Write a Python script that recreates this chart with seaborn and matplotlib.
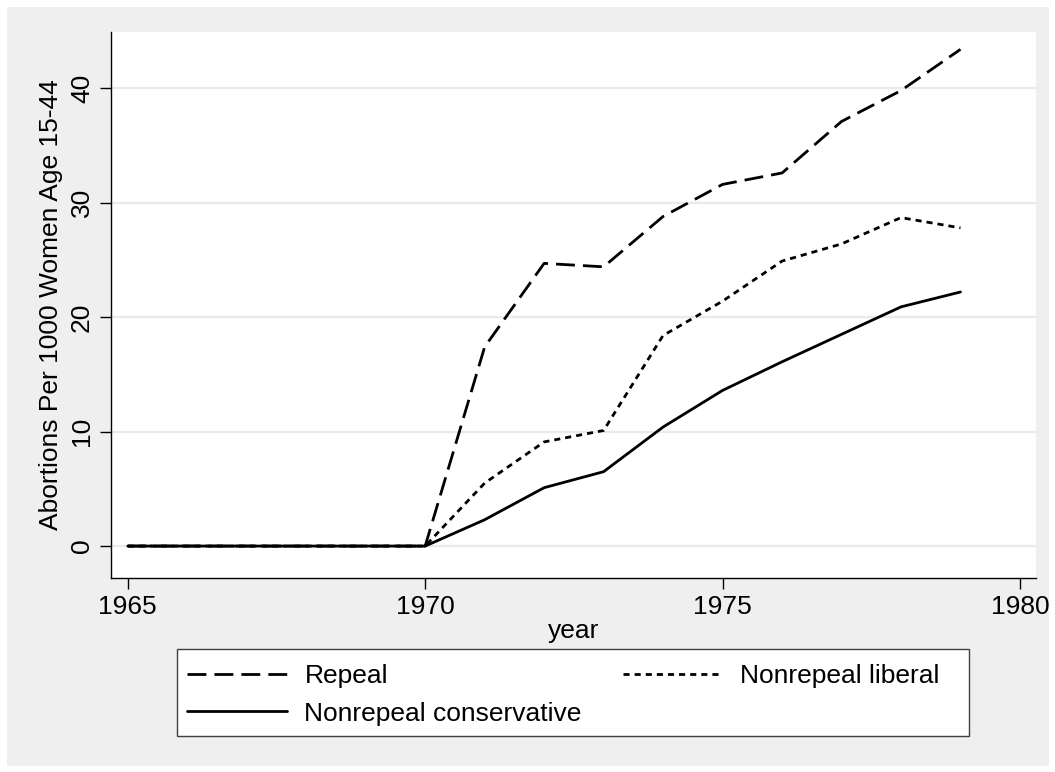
import pandas as pd
import matplotlib
matplotlib.use("Agg")
import matplotlib.pyplot as plt
import seaborn as sns
from matplotlib.patches import Rectangle

# Data
years = list(range(1965, 1980))
repeal = [0, 0, 0, 0, 0, 0, 17.4, 24.7, 24.4, 28.8, 31.6, 32.6, 37.1, 39.8, 43.4]
nonrepeal_liberal = [0, 0, 0, 0, 0, 0, 5.5, 9.1, 10.1, 18.4, 21.4, 24.9, 26.4, 28.7, 27.8]
nonrepeal_conservative = [0, 0, 0, 0, 0, 0, 2.3, 5.1, 6.5, 10.4, 13.6, 16.1, 18.5, 20.9, 22.2]
group_names = ["Repeal", "Nonrepeal conservative", "Nonrepeal liberal"]

df = pd.concat([
    pd.DataFrame({"year": years, "rate": repeal, "group": "Repeal"}),
    pd.DataFrame({"year": years, "rate": nonrepeal_conservative, "group": "Nonrepeal conservative"}),
    pd.DataFrame({"year": years, "rate": nonrepeal_liberal, "group": "Nonrepeal liberal"}),
])

sns.set_style("white")
plt.rcParams["font.family"] = ["Liberation Sans", "DejaVu Sans"]
plt.rcParams["text.color"] = "black"

bg = "#EFEFEF"
fs = 19
W, H = 1055, 772
fig = plt.figure(figsize=(W / 100, H / 100), dpi=100, facecolor=bg)
fig.patch.set_edgecolor("white")
fig.patch.set_linewidth(8)
ax = fig.add_axes([0.105, 0.2513, 0.877, 0.707])
ax.set_facecolor("white")

sns.lineplot(
    data=df, x="year", y="rate", hue="group", style="group",
    hue_order=group_names, style_order=group_names,
    palette={g: "black" for g in group_names},
    dashes={"Repeal": (6.8, 2.9), "Nonrepeal liberal": (2.2, 1.8), "Nonrepeal conservative": ""},
    linewidth=2, ax=ax,
)

ax.set_xlim(1964.714, 1980.27)
ax.set_ylim(-2.79, 44.9)
ax.set_xticks([1965, 1970, 1975, 1980])
ax.set_yticks([0, 10, 20, 30, 40])
ax.yaxis.grid(True, color="#EAEAEA", linewidth=1.6)
ax.xaxis.grid(False)
ax.set_axisbelow(True)

for side in ["top", "right"]:
    ax.spines[side].set_visible(False)
for side in ["left", "bottom"]:
    ax.spines[side].set_color("black")
    ax.spines[side].set_linewidth(1.0)

ax.tick_params(axis="both", direction="out", length=8, width=1.0, color="black",
               labelsize=fs, labelcolor="black", left=True, bottom=True, pad=4)
for lbl in ax.get_yticklabels():
    lbl.set_rotation(90)
    lbl.set_va("center")

ax.set_xlabel("year", fontsize=fs, labelpad=0, color="black")
ax.set_ylabel("Abortions Per 1000 Women Age 15-44", fontsize=fs, labelpad=5, color="black")

# legend box (drawn separately so it can be wider than its entries)
fig.patches.append(Rectangle((177 / W, 1 - 736 / H), 792 / W, 87 / H,
                             transform=fig.transFigure, facecolor="white",
                             edgecolor="#404040", linewidth=1.0, zorder=1))

handles, labels = ax.get_legend_handles_labels()
if ax.legend_:
    ax.legend_.remove()
leg = fig.legend(
    handles, labels, ncol=2, loc="upper left",
    bbox_to_anchor=(187 / W, 1 - 664 / H), borderaxespad=0, borderpad=0,
    fontsize=fs, frameon=False, handlelength=3.8, columnspacing=1.55,
    handletextpad=0.65, labelspacing=0.52,
)
leg.set_zorder(2)

fig.savefig("out.png", dpi=100, facecolor=bg, edgecolor="white")
